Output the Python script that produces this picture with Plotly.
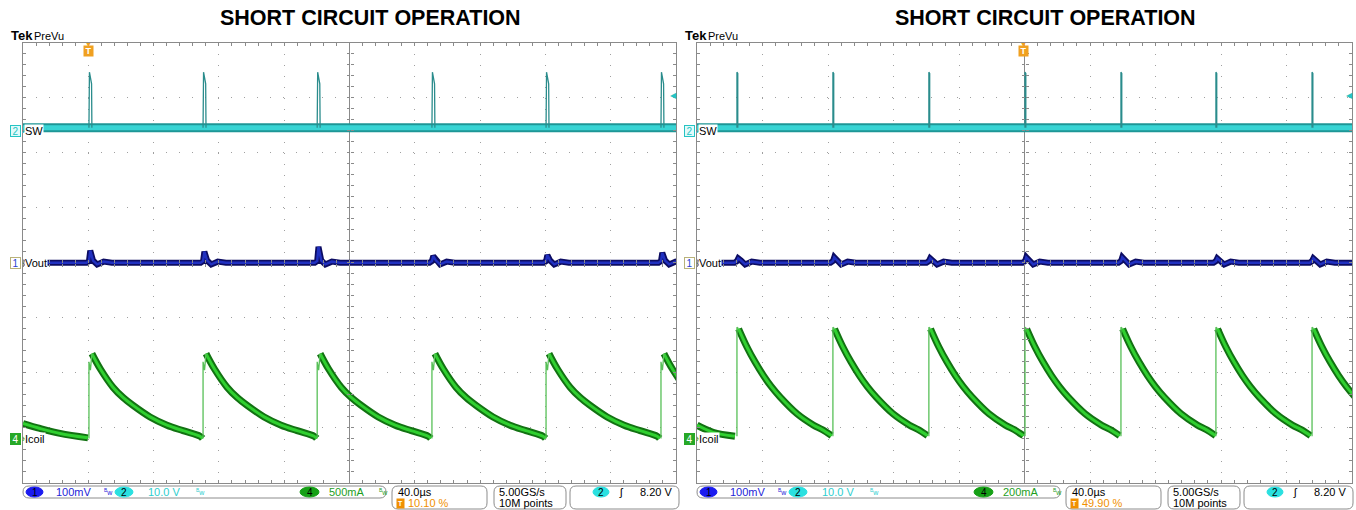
import plotly.graph_objects as go

W, H = 1356, 510

# Time in µs from the centre of the screen (40 µs/div), vertical in divisions (8 div).
title_text = "SHORT CIRCUIT OPERATION"
channel_names = ["SW", "Vout", "Icoil"]
channel_levels = [2.4, 0.0, -3.2]          # ground markers on the left edge
trigger_pct = [10.10, 49.90]

# ---- left capture -------------------------------------------------------
left_edges = [-159.6, -89.7, -19.8, 50.5, 120.4, 190.8]
left_vout_bump = [0.22, 0.20, 0.29, 0.12, 0.14, 0.18]
left_sw_dt = [0.0, 0.0, 0.3, 1.6, 1.8]
left_sw_v = [2.45, 3.40, 3.46, 3.25, 2.45]
left_il_lead_t = [-200.0, -189.6, -177.3, -160.2]
left_il_lead_v = [-2.92, -3.01, -3.10, -3.18]
left_il_rise_dt = [0.0, 0.0, 0.9, 1.8]
left_il_rise_v = [-3.19, -1.80, -1.95, -1.65]
left_il_dt = [1.8, 7.0, 14.7, 21.0, 27.0, 37.4, 47.8, 57.6, 68.0, 69.6]
left_il_v = [-1.65, -1.93, -2.26, -2.45, -2.59, -2.80, -2.95, -3.05, -3.15, -3.19]
left_status = ["100mV", "10.0 V", "500mA", "40.0µs", "10.10 %", "5.00GS/s", "10M points", "8.20 V"]

# ---- right capture ------------------------------------------------------
right_edges = [-175.6, -117.0, -58.4, 0.3, 58.9, 116.9, 175.6]
right_vout_bump = [0.08, 0.10, 0.08, 0.10, 0.10, 0.08, 0.08]
right_sw_dt = [0.0, 0.0, 0.5, 0.5]
right_sw_v = [2.45, 3.46, 3.44, 2.45]
right_il_lead_t = [-200.0, -190.2, -176.8]
right_il_lead_v = [-2.95, -3.08, -3.15]
right_il_rise_dt = [0.0, 0.0, 1.0]
right_il_rise_v = [-3.15, -1.17, -1.20]
right_il_dt = [1.0, 6.1, 11.0, 16.2, 21.0, 26.4, 36.6, 46.8, 52.0, 57.8]
right_il_v = [-1.20, -1.53, -1.80, -2.05, -2.25, -2.44, -2.74, -2.95, -3.03, -3.14]
right_status = ["100mV", "10.0 V", "200mA", "40.0µs", "49.90 %", "5.00GS/s", "10M points", "8.20 V"]

sw_base_t = [-200.0, 200.0]
sw_base_v = [2.45, 2.45]
vout_dt = [-1.5, 0.0, 0.8, 2.5, 5.0, 9.0, 14.0]
vout_v = [0.0, 0.03, 0.0, 0.04, -0.03, 0.02, 0.0]   # index 2 = bump height

SCOPE_FONT = "Liberation Sans, Arial, sans-serif"
GRID = "#a0a0a0"
FRAME = "#8a8a8a"


def X(px):
    return px / W


def Y(py):
    return 1 - py / H


def repeat(edges, dt, v, lead_t=None, lead_v=None):
    xs, ys = [], []
    if lead_t:
        xs += list(lead_t) + [None]
        ys += list(lead_v) + [None]
    for e in edges:
        xs += [e + d for d in dt] + [None]
        ys += list(v) + [None]
    return xs, ys


def vout_line(edges, bumps):
    xs, ys = [-200.0], [0.0]
    for e, a in zip(edges, bumps):
        for i, (d, val) in enumerate(zip(vout_dt, vout_v)):
            xs.append(e + d)
            ys.append(a if i == 2 else val)
    if xs[-1] < 200:
        xs.append(200.0)
        ys.append(0.0)
    return xs, ys


def line(x, y, color, width, xa, ya, shape="linear"):
    return go.Scatter(x=x, y=y, mode="lines", line=dict(color=color, width=width, shape=shape),
                      xaxis=xa, yaxis=ya, showlegend=False, hoverinfo="skip",
                      connectgaps=False)


def text(x, y, s, size=11, color="black", anchor="left", family=SCOPE_FONT, **kw):
    return dict(x=X(x), y=Y(y), xref="paper", yref="paper", text=s, showarrow=False,
                xanchor=anchor, yanchor="middle",
                font=dict(size=size, color=color, family=family), **kw)


def rbox(x0, y0, x1, y1, r, color="#8c8c8c"):
    p = (f"M {X(x0 + r)},{Y(y0)} L {X(x1 - r)},{Y(y0)} Q {X(x1)},{Y(y0)} {X(x1)},{Y(y0 + r)} "
         f"L {X(x1)},{Y(y1 - r)} Q {X(x1)},{Y(y1)} {X(x1 - r)},{Y(y1)} "
         f"L {X(x0 + r)},{Y(y1)} Q {X(x0)},{Y(y1)} {X(x0)},{Y(y1 - r)} "
         f"L {X(x0)},{Y(y0 + r)} Q {X(x0)},{Y(y0)} {X(x0 + r)},{Y(y0)} Z")
    return dict(type="path", path=p, xref="paper", yref="paper",
                line=dict(color=color, width=1), fillcolor="rgba(0,0,0,0)")


def oval(x0, y0, x1, y1, color):
    return dict(type="circle", xref="paper", yref="paper", x0=X(x0), x1=X(x1),
                y0=Y(y1), y1=Y(y0), fillcolor=color, line=dict(color=color, width=1))


fig = go.Figure()

panels = [
    dict(x0=23, x1=676, xa="x", ya="y", ox=["x3", "x4"], oy=["y3", "y4"], dx=0,
         edges=left_edges, bumps=left_vout_bump, sw=(left_sw_dt, left_sw_v),
         lead=(left_il_lead_t, left_il_lead_v), rise=(left_il_rise_dt, left_il_rise_v),
         decay=(left_il_dt, left_il_v), status=left_status, trig=trigger_pct[0]),
    dict(x0=697, x1=1352, xa="x2", ya="y2", ox=["x5", "x6"], oy=["y5", "y6"], dx=674,
         edges=right_edges, bumps=right_vout_bump, sw=(right_sw_dt, right_sw_v),
         lead=(right_il_lead_t, right_il_lead_v), rise=(right_il_rise_dt, right_il_rise_v),
         decay=(right_il_dt, right_il_v), status=right_status, trig=trigger_pct[1]),
]

Y_TOP, Y_BOT = 42.5, 483.0
shapes, annotations = [], []
layout_axes = {}

for i, p in enumerate(panels):
    xa, ya = p["xa"], p["ya"]
    # SW: thick baseline band and thin switching spikes
    fig.add_trace(line(sw_base_t, sw_base_v, "#1e9696", 9, xa, ya))
    fig.add_trace(line(sw_base_t, sw_base_v, "#38d4d4", 5, xa, ya))
    sx, sy = repeat(p["edges"], *p["sw"])
    fig.add_trace(line(sx, sy, "#2a8c8c", 1.3, xa, ya))
    # Vout
    vx, vy = vout_line(p["edges"], p["bumps"])
    fig.add_trace(line(vx, vy, "#0c0c62", 6, xa, ya))
    fig.add_trace(line(vx, vy, "#2030c0", 2.5, xa, ya))
    # Icoil
    ix, iy = repeat(p["edges"], *p["decay"], lead_t=p["lead"][0], lead_v=p["lead"][1])
    fig.add_trace(line(ix, iy, "#127212", 7, xa, ya, "spline"))
    fig.add_trace(line(ix, iy, "#30d030", 3, xa, ya, "spline"))
    rx, ry = repeat(p["edges"], *p["rise"])
    fig.add_trace(line(rx, ry, "#58c058", 1.3, xa, ya))

    # empty traces so the overlay tick axes are drawn
    for o in p["ox"]:
        fig.add_trace(go.Scatter(x=[], y=[], xaxis=o, yaxis=ya, showlegend=False, hoverinfo="skip"))
    for o in p["oy"]:
        fig.add_trace(go.Scatter(x=[], y=[], xaxis=xa, yaxis=o, showlegend=False, hoverinfo="skip"))

    dom_x = [X(p["x0"]), X(p["x1"])]
    dom_y = [Y(Y_BOT), Y(Y_TOP)]
    common = dict(showticklabels=False, showline=True, linecolor=FRAME, linewidth=1,
                  mirror="ticks", ticks="inside", ticklen=3, tickcolor=FRAME,
                  showgrid=True, gridcolor=GRID, gridwidth=1,
                  zeroline=True, zerolinecolor=FRAME, zerolinewidth=1, fixedrange=True)
    xkey = "xaxis" if xa == "x" else "xaxis2"
    ykey = "yaxis" if ya == "y" else "yaxis2"
    layout_axes[xkey] = dict(common, domain=dom_x, anchor=ya, range=[-200, 200], tick0=-200, dtick=40,
                             griddash="1px,10px",
                             minor=dict(ticks="inside", tick0=-200, dtick=8, ticklen=3,
                                        tickcolor=FRAME, showgrid=False))
    layout_axes[ykey] = dict(common, domain=dom_y, anchor=xa, range=[-4, 4], tick0=-4, dtick=1,
                             griddash="1px,12px",
                             minor=dict(ticks="inside", tick0=-4, dtick=0.2, ticklen=3,
                                        tickcolor=FRAME, showgrid=False))
    tick_common = dict(showticklabels=False, showline=False, showgrid=False, zeroline=False,
                       ticks="outside", ticklen=3, tickcolor=FRAME, fixedrange=True, anchor="free")
    ymid = (dom_y[0] + dom_y[1]) / 2
    xmid = (dom_x[0] + dom_x[1]) / 2
    for o, side in zip(p["ox"], ["bottom", "top"]):
        layout_axes["xaxis" + o[1:]] = dict(tick_common, overlaying=xa, side=side, position=ymid,
                                           range=[-200, 200], tick0=-200, dtick=8)
    for o, side in zip(p["oy"], ["left", "right"]):
        layout_axes["yaxis" + o[1:]] = dict(tick_common, overlaying=ya, side=side, position=xmid,
                                           range=[-4, 4], tick0=-4, dtick=0.2)

    dx = p["dx"]
    # header
    annotations.append(text((p["x0"] + p["x1"]) / 2 + 21, 18, f"<b>{title_text}</b>", size=21.5,
                            anchor="center", family="Liberation Sans, Arial, sans-serif"))
    annotations.append(text(9 + dx, 36, "<b>Tek</b>", size=13))
    annotations.append(text(32 + dx, 36, "PreVu", size=11))

    # channel ground markers and names
    def lvl(v):
        return Y_TOP + (4 - v) * (Y_BOT - Y_TOP) / 8
    marks = [("2", "#25c4c4", "#e2fafa", "#25c4c4"),
             ("1", "#2b3fd0", "#ffffff", "#b9b27a"),
             ("4", "#ffffff", "#27a827", "#27a827")]
    for (num, fc, bg, bc), name, level in zip(marks, channel_names, channel_levels):
        yy = lvl(level)
        annotations.append(text(15 + dx, yy, num, size=10, color=fc, anchor="center",
                                bgcolor=bg, bordercolor=bc, borderwidth=1, borderpad=0,
                                width=9, height=10))
        annotations.append(text(20 + dx, yy, "›", size=10, color=bc))
        annotations.append(text(24 + dx, yy, name, size=11, bgcolor="white", borderpad=0))

    # trigger position and level
    tpx = p["x0"] + p["trig"] / 100 * (p["x1"] - p["x0"])
    annotations.append(text(tpx, 44, "▼", size=7, color="#f0a020", anchor="center"))
    annotations.append(text(tpx, 51, "<b>T</b>", size=9, color="white", anchor="center",
                            bgcolor="#f0a020", borderpad=0, width=9, height=10))
    annotations.append(text(p["x1"] - 3, 95, "◀", size=8, color="#25c4c4", anchor="center"))

    # status bar
    st = p["status"]
    shapes.append(rbox(23 + dx, 486, 386 + dx, 498, 6))
    shapes.append(rbox(392 + dx, 486, 487 + dx, 509, 6))
    shapes.append(rbox(494 + dx, 486, 566 + dx, 509, 6))
    shapes.append(rbox(570 + dx, 486, 679 + dx, 509, 6))
    for (ox0, ox1, col, num) in [(26, 43, "#1b1bf0", "1"), (115, 133, "#2ae0e0", "2"),
                                 (300, 319, "#16a016", "4"), (593, 609, "#2ae0e0", "2")]:
        shapes.append(oval(ox0 + dx, 487, ox1 + dx, 497, col))
        annotations.append(text((ox0 + ox1) / 2 + dx, 492, num, size=10, anchor="center"))
    annotations.append(text(54 + dx, 492, st[0], color="#2424d8"))
    annotations.append(text(102 + dx, 492, "<sup>B</sup>w", size=7, color="#2424d8"))
    annotations.append(text(146 + dx, 492, st[1], color="#2ecece"))
    annotations.append(text(194 + dx, 492, "<sup>B</sup>w", size=7, color="#2ecece"))
    annotations.append(text(327 + dx, 492, st[2], color="#1e9e1e"))
    annotations.append(text(377 + dx, 492, "<sup>B</sup>w", size=7, color="#1e9e1e"))
    annotations.append(text(396 + dx, 492, st[3]))
    annotations.append(text(400 + dx, 503, "<b>T</b>", size=7, color="white", anchor="center",
                            bgcolor="#f09000", borderpad=0, width=7, height=9))
    annotations.append(text(406 + dx, 503, st[4], color="#f09000"))
    annotations.append(text(497 + dx, 492, st[5]))
    annotations.append(text(497 + dx, 503, st[6]))
    annotations.append(text(621 + dx, 492, "ʃ", size=11, anchor="center"))
    annotations.append(text(674 + dx, 492, st[7], anchor="right"))

fig.update_layout(
    width=W, height=H,
    margin=dict(l=0, r=0, t=0, b=0),
    paper_bgcolor="white", plot_bgcolor="white",
    showlegend=False,
    shapes=shapes, annotations=annotations,
    **layout_axes,
)

# the page's default body margin would shift the whole figure by 8 px
fig.write_html("out.html", config={"displayModeBar": False},
               post_script="document.body.style.margin = '0px';")
